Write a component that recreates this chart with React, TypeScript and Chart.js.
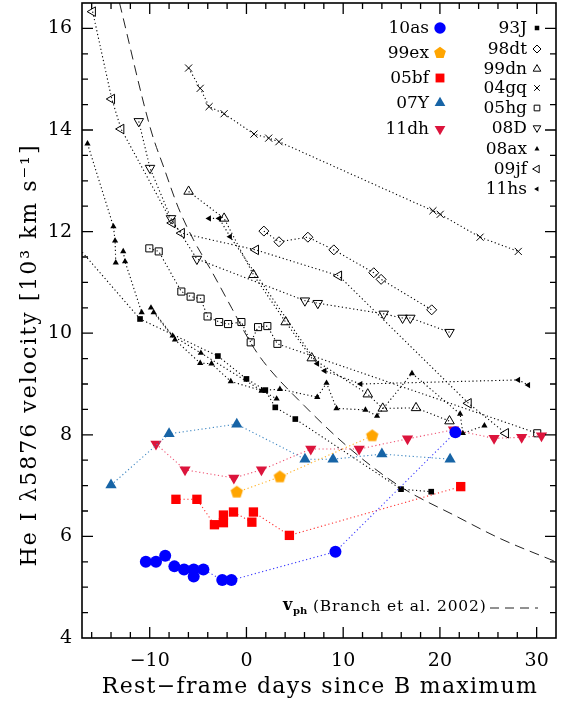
import React, { useEffect, useRef } from 'react';
import { Chart, registerables } from 'chart.js';
Chart.register(...registerables);

const FONT = '"DejaVu Serif", "Liberation Serif", serif';

const X_MIN = -17, X_MAX = 32, Y_MIN = 4, Y_MAX = 16.5;
const xTickLabels = [-10, 0, 10, 20, 30];
const yTickLabels = [4, 6, 8, 10, 12, 14, 16];

// ---- data (days since B max, He I velocity in 1000 km/s) ----
const sn10asDays = [-10.4, -9.35, -8.4, -7.45, -6.45, -5.45, -5.45, -4.45, -2.5, -1.55, 9.2, 21.6];
const sn10asVel = [5.50, 5.50, 5.62, 5.41, 5.35, 5.35, 5.21, 5.35, 5.14, 5.14, 5.70, 8.05];

const sn99exDays = [-1.0, 3.45, 13.0];
const sn99exVel = [6.87, 7.17, 7.98];

const sn05bfDays = [-7.29, -5.12, -3.31, -2.38, -2.38, -1.34, 0.56, 0.72, 4.44, 22.15];
const sn05bfVel = [6.73, 6.73, 6.23, 6.27, 6.42, 6.48, 6.28, 6.48, 6.02, 6.98];

const sn07YDays = [-14.0, -8.0, -1.0, 6.05, 8.95, 14.0, 21.05];
const sn07YVel = [7.01, 8.02, 8.21, 7.52, 7.52, 7.62, 7.52];

const sn11dhDays = [-9.35, -6.35, -1.3, 1.55, 6.65, 11.65, 16.65, 21.4, 25.6, 28.45, 30.5];
const sn11dhVel = [7.82, 7.31, 7.15, 7.31, 7.72, 7.72, 7.92, 8.1, 7.93, 7.95, 7.98];

const sn93JDays = [-18.0, -11.0, -2.95, 0.0, 1.95, 2.98, 5.05, 15.98, 19.1];
const sn93JVel = [11.82, 10.28, 9.55, 9.10, 8.88, 8.54, 8.31, 6.93, 6.88];

const sn98dtDays = [1.8, 3.36, 6.35, 9.03, 13.16, 13.92, 19.15];
const sn98dtVel = [12.01, 11.80, 11.89, 11.64, 11.19, 11.06, 10.46];

const sn99dnDays = [-5.98, -2.31, 0.72, 4.05, 6.75, 12.54, 14.09, 17.53, 20.99];
const sn99dnVel = [12.79, 12.26, 11.15, 10.22, 9.51, 8.80, 8.52, 8.53, 8.27];

const sn04gqDays = [-5.98, -4.78, -3.86, -2.31, 0.78, 2.3, 3.36, 19.28, 20.03, 24.15, 28.1];
const sn04gqVel = [15.22, 14.82, 14.46, 14.32, 13.92, 13.84, 13.77, 12.41, 12.34, 11.89, 11.61];

const sn05hgDays = [-10.04, -9.07, -6.73, -5.77, -4.74, -4.02, -2.82, -1.9, -0.52, 0.44, 1.2, 2.16, 3.2, 30.06];
const sn05hgVel = [11.67, 11.61, 10.82, 10.72, 10.68, 10.33, 10.22, 10.18, 10.22, 9.82, 10.12, 10.14, 9.79, 8.03];

const sn08DDays = [-11.13, -9.97, -7.8, -5.12, 6.04, 7.38, 14.19, 16.14, 16.94, 20.99];
const sn08DVel = [14.17, 13.25, 12.26, 11.46, 10.64, 10.59, 10.38, 10.30, 10.30, 10.02];

const sn08axADays = [-16.43, -13.75, -13.58, -13.51];
const sn08axAVel = [13.73, 12.10, 11.82, 11.39];
const sn08axBDays = [-12.74, -12.55, -10.83];
const sn08axBVel = [11.61, 11.41, 10.41];
const sn08axCDays = [-9.87, -7.63, -4.71, 1.58, 3.46, 7.32, 8.28, 9.31, 12.3, 13.5, 17.11, 22.09, 22.37, 24.6];
const sn08axCVel = [10.50, 9.95, 9.61, 8.87, 8.90, 8.74, 9.02, 8.52, 8.49, 8.37, 9.21, 8.41, 8.03, 8.18];
const sn08axDDays = [-9.59, -7.39, -4.78, -3.61, -1.62, 1.58, 3.12];
const sn08axDVel = [10.41, 9.87, 9.41, 9.40, 9.05, 8.87, 8.71];

const sn09jfDays = [-15.9, -13.92, -12.96, -7.67, -6.7, 0.96, 9.55, 22.95, 26.8];
const sn09jfVel = [16.33, 14.61, 14.02, 12.17, 11.97, 11.64, 11.13, 8.62, 8.03];

const sn11hsDays = [-3.86, -2.82, -1.69, 7.32, 8.08, 11.79, 28.1, 29.13];
const sn11hsVel = [12.26, 12.26, 11.90, 9.40, 9.26, 9.0, 9.08, 8.98];

// photospheric velocity curve (Branch et al. 2002)
const vphDays = [-13.12, -9.88, -8.5, -7.06, -5.48, -3.57, -1.51, 0.38, 1.76, 5.94, 10.74, 15.9, 21.75, 26.2, 32.0];
const vphVel = [16.5, 14.0, 13.24, 12.48, 11.84, 11.21, 10.49, 9.83, 9.44, 8.58, 7.72, 6.98, 6.39, 5.96, 5.50];

const legendLeft = ['10as', '99ex', '05bf', '07Y', '11dh'];
const legendRight = ['93J', '98dt', '99dn', '04gq', '05hg', '08D', '08ax', '09jf', '11hs'];

// ---- styles ----
type Shape = 'circle' | 'pentagon' | 'rect' | 'triUp' | 'triDown' | 'triLeft' | 'diamond' | 'cross';
interface Sty { shape: Shape; r: number; color: string; filled: boolean; line: string }
const STY: Record<string, Sty> = {
  '10as': { shape: 'circle', r: 6, color: '#0000ff', filled: true, line: '#3a3aff' },
  '99ex': { shape: 'pentagon', r: 6.5, color: '#ffa500', filled: true, line: '#ffb020' },
  '05bf': { shape: 'rect', r: 6.6, color: '#ff0000', filled: true, line: '#ff3030' },
  '07Y': { shape: 'triUp', r: 6.5, color: '#1764a6', filled: true, line: '#3d86c2' },
  '11dh': { shape: 'triDown', r: 6.5, color: '#dc143c', filled: true, line: '#ee5070' },
  '93J': { shape: 'rect', r: 4, color: '#000', filled: true, line: '#000' },
  '98dt': { shape: 'diamond', r: 5, color: '#000', filled: false, line: '#000' },
  '99dn': { shape: 'triUp', r: 5.5, color: '#000', filled: false, line: '#000' },
  '04gq': { shape: 'cross', r: 5, color: '#000', filled: false, line: '#000' },
  '05hg': { shape: 'rect', r: 5, color: '#000', filled: false, line: '#000' },
  '08D': { shape: 'triDown', r: 5.5, color: '#000', filled: false, line: '#000' },
  '08ax': { shape: 'triUp', r: 3.6, color: '#000', filled: true, line: '#000' },
  '09jf': { shape: 'triLeft', r: 5.5, color: '#000', filled: false, line: '#000' },
  '11hs': { shape: 'triLeft', r: 3.6, color: '#000', filled: true, line: '#000' },
};

function pentagonCanvas(r: number, color: string) {
  const c = document.createElement('canvas');
  const s = Math.ceil(r * 2 + 2);
  c.width = s; c.height = s;
  const g = c.getContext('2d')!;
  tracePath(g, 'pentagon', s / 2, s / 2, r);
  g.fillStyle = color; g.fill();
  return c;
}

function tracePath(ctx: CanvasRenderingContext2D, shape: Shape, x: number, y: number, r: number) {
  ctx.beginPath();
  const tri = (rotDeg: number) => {
    let rad = rotDeg * Math.PI / 180;
    ctx.moveTo(x + Math.sin(rad) * r, y - Math.cos(rad) * r);
    rad += 2 * Math.PI / 3;
    ctx.lineTo(x + Math.sin(rad) * r, y - Math.cos(rad) * r);
    rad += 2 * Math.PI / 3;
    ctx.lineTo(x + Math.sin(rad) * r, y - Math.cos(rad) * r);
    ctx.closePath();
  };
  switch (shape) {
    case 'circle': ctx.arc(x, y, r, 0, Math.PI * 2); break;
    case 'pentagon':
      for (let i = 0; i < 5; i++) {
        const a = -Math.PI / 2 + i * 2 * Math.PI / 5;
        const px = x + r * Math.cos(a), py = y + r * Math.sin(a);
        if (i) ctx.lineTo(px, py); else ctx.moveTo(px, py);
      }
      ctx.closePath(); break;
    case 'rect': { const s = r * Math.SQRT1_2; ctx.rect(x - s, y - s, 2 * s, 2 * s); break; }
    case 'diamond': ctx.moveTo(x, y - r); ctx.lineTo(x + r, y); ctx.lineTo(x, y + r); ctx.lineTo(x - r, y); ctx.closePath(); break;
    case 'triUp': tri(0); break;
    case 'triDown': tri(180); break;
    case 'triLeft': tri(270); break;
    case 'cross': { const s = r * Math.SQRT1_2; ctx.moveTo(x - s, y - s); ctx.lineTo(x + s, y + s); ctx.moveTo(x + s, y - s); ctx.lineTo(x - s, y + s); break; }
  }
}

function drawMarker(ctx: CanvasRenderingContext2D, st: Sty, x: number, y: number, scale = 1) {
  tracePath(ctx, st.shape, x, y, st.r * scale);
  if (st.shape === 'cross' || !st.filled) {
    ctx.strokeStyle = st.color; ctx.lineWidth = 1; ctx.stroke();
  } else { ctx.fillStyle = st.color; ctx.fill(); }
}

function pointStyleOf(st: Sty): any {
  switch (st.shape) {
    case 'circle': return { pointStyle: 'circle' };
    case 'pentagon': return { pointStyle: pentagonCanvas(st.r, st.color) };
    case 'rect': return { pointStyle: 'rect' };
    case 'diamond': return { pointStyle: 'rectRot' };
    case 'cross': return { pointStyle: 'crossRot' };
    case 'triUp': return { pointStyle: 'triangle', rotation: 0 };
    case 'triDown': return { pointStyle: 'triangle', rotation: 180 };
    case 'triLeft': return { pointStyle: 'triangle', rotation: 270 };
  }
}

function series(name: string, days: number[], vel: number[], order: number) {
  const st = STY[name];
  const ps = pointStyleOf(st);
  return {
    label: name,
    data: days.map((d, i) => ({ x: d, y: vel[i] })),
    showLine: true,
    borderColor: st.line,
    borderWidth: 1.1,
    borderDash: [1.2, 2.6],
    pointStyle: ps.pointStyle,
    pointRotation: ps.rotation || 0,
    pointRadius: st.r,
    pointHoverRadius: st.r,
    pointBackgroundColor: st.filled ? st.color : 'rgba(0,0,0,0)',
    pointBorderColor: st.color,
    pointBorderWidth: st.filled ? 0 : 1,
    order,
  };
}

const minus = (v: number) => (v < 0 ? '\u2212' + Math.abs(v) : String(v));

const decor = {
  id: 'decor',
  afterDraw(chart: any) {
    const { ctx, chartArea: a, scales } = chart;
    const xs = scales.x, ys = scales.y;
    ctx.save();
    // inward ticks on all four sides
    ctx.strokeStyle = '#000';
    ctx.lineWidth = 1.3;
    ctx.beginPath();
    for (let d = -16; d < X_MAX; d += 2) {
      const px = xs.getPixelForValue(d);
      const len = d % 10 === 0 ? 11 : 6;
      ctx.moveTo(px, a.bottom); ctx.lineTo(px, a.bottom - len);
      ctx.moveTo(px, a.top); ctx.lineTo(px, a.top + len);
    }
    for (let v = Y_MIN + 0.5; v < Y_MAX; v += 0.5) {
      const py = ys.getPixelForValue(v);
      const len = Math.abs(v % 2) < 1e-6 ? 11 : 6;
      ctx.moveTo(a.left, py); ctx.lineTo(a.left + len, py);
      ctx.moveTo(a.right, py); ctx.lineTo(a.right - len, py);
    }
    ctx.stroke();
    ctx.lineWidth = 1.6;
    ctx.strokeRect(a.left, a.top, a.right - a.left, a.bottom - a.top);

    // legend
    ctx.fillStyle = '#000';
    ctx.font = `17px ${FONT}`;
    ctx.textAlign = 'right';
    ctx.textBaseline = 'middle';
    const leftRows = [29, 54, 79, 104, 130];
    legendLeft.forEach((n, i) => {
      ctx.fillStyle = '#000';
      ctx.fillText(n, 429, leftRows[i]);
      drawMarker(ctx, STY[n], 440, leftRows[i] - 1, 0.95);
    });
    const rightRows = [29, 50, 70, 89, 109, 129, 150, 170, 190];
    legendRight.forEach((n, i) => {
      ctx.fillStyle = '#000';
      ctx.fillText(n, 527, rightRows[i]);
      drawMarker(ctx, STY[n], 537, rightRows[i] - 1, 0.8);
    });

    // v_ph legend
    ctx.textAlign = 'left';
    ctx.fillStyle = '#000';
    ctx.font = `bold 16px ${FONT}`;
    ctx.fillText('v', 283, 606);
    ctx.font = `bold 10px ${FONT}`;
    ctx.fillText('ph', 293, 611);
    (ctx as any).letterSpacing = '0.8px';
    ctx.font = `15.5px ${FONT}`;
    ctx.fillText('(Branch et al. 2002)', 313, 607);
    (ctx as any).letterSpacing = '0px';
    ctx.setLineDash([9, 6]);
    ctx.strokeStyle = '#222';
    ctx.lineWidth = 1;
    ctx.beginPath(); ctx.moveTo(490, 608); ctx.lineTo(538, 608); ctx.stroke();
    ctx.setLineDash([]);

    // axis titles
    ctx.fillStyle = '#000';
    ctx.font = `22px ${FONT}`;
    (ctx as any).letterSpacing = '1.3px';
    ctx.textAlign = 'center';
    ctx.fillText('Rest\u2212frame days since B maximum', (a.left + a.right) / 2 + 1, 687);
    (ctx as any).letterSpacing = '2px';
    ctx.translate(30, 355);
    ctx.rotate(-Math.PI / 2);
    ctx.fillText('He I \u03bb5876 velocity [10\u00b3 km s\u207b\u00b9]', 0, 0);
    (ctx as any).letterSpacing = '0px';
    ctx.restore();
  },
};

export default function App() {
  const ref = useRef<HTMLCanvasElement>(null);
  useEffect(() => {
    const canvas = ref.current!;
    const datasets: any[] = [
      series('10as', sn10asDays, sn10asVel, 0),
      series('99ex', sn99exDays, sn99exVel, 0),
      series('05bf', sn05bfDays, sn05bfVel, 0),
      series('07Y', sn07YDays, sn07YVel, 0),
      series('11dh', sn11dhDays, sn11dhVel, 0),
      series('93J', sn93JDays, sn93JVel, 1),
      series('98dt', sn98dtDays, sn98dtVel, 1),
      series('99dn', sn99dnDays, sn99dnVel, 1),
      series('04gq', sn04gqDays, sn04gqVel, 1),
      series('05hg', sn05hgDays, sn05hgVel, 1),
      series('08D', sn08DDays, sn08DVel, 1),
      series('08ax', sn08axADays, sn08axAVel, 1),
      series('08ax', sn08axBDays, sn08axBVel, 1),
      series('08ax', sn08axCDays, sn08axCVel, 1),
      series('08ax', sn08axDDays, sn08axDVel, 1),
      series('09jf', sn09jfDays, sn09jfVel, 1),
      series('11hs', sn11hsDays, sn11hsVel, 1),
      {
        label: 'vph',
        data: vphDays.map((d, i) => ({ x: d, y: vphVel[i] })),
        showLine: true,
        borderColor: '#222',
        borderWidth: 1,
        borderDash: [10, 6],
        cubicInterpolationMode: 'monotone',
        pointRadius: 0,
        order: 2,
      },
    ];
    const chart = new Chart(canvas, {
      type: 'scatter',
      data: { datasets },
      options: {
        animation: false,
        responsive: false,
        devicePixelRatio: 1,
        layout: { autoPadding: false, padding: { top: 3, right: 10, left: 0, bottom: 0 } },
        plugins: { legend: { display: false }, tooltip: { enabled: false } },
        scales: {
          x: {
            type: 'linear', min: X_MIN, max: X_MAX, position: 'bottom',
            afterBuildTicks: (s: any) => { s.ticks = xTickLabels.map((v) => ({ value: v })); },
            afterFit: (s: any) => { s.height = 64; s.paddingLeft = 0; s.paddingRight = 0; },
            grid: { display: false, drawTicks: false },
            border: { display: false },
            ticks: { font: { family: FONT, size: 19 }, color: '#000', padding: 12, maxRotation: 0, autoSkip: false, callback: (v: any) => minus(Number(v)) },
          },
          y: {
            type: 'linear', min: Y_MIN, max: Y_MAX,
            afterBuildTicks: (s: any) => { s.ticks = yTickLabels.map((v) => ({ value: v })); },
            afterFit: (s: any) => { s.width = 82; s.paddingTop = 0; s.paddingBottom = 0; },
            grid: { display: false, drawTicks: false },
            border: { display: false },
            ticks: { font: { family: FONT, size: 19 }, color: '#000', padding: 10, autoSkip: false, callback: (v: any) => String(v) },
          },
        },
      },
      plugins: [decor],
    });
    return () => chart.destroy();
  }, []);
  return (
    <div style={{ position: 'absolute', left: 0, top: 0, width: 566, height: 702, background: '#fff' }}>
      <canvas ref={ref} width={566} height={702} style={{ display: 'block', width: 566, height: 702 }} />
    </div>
  );
}
